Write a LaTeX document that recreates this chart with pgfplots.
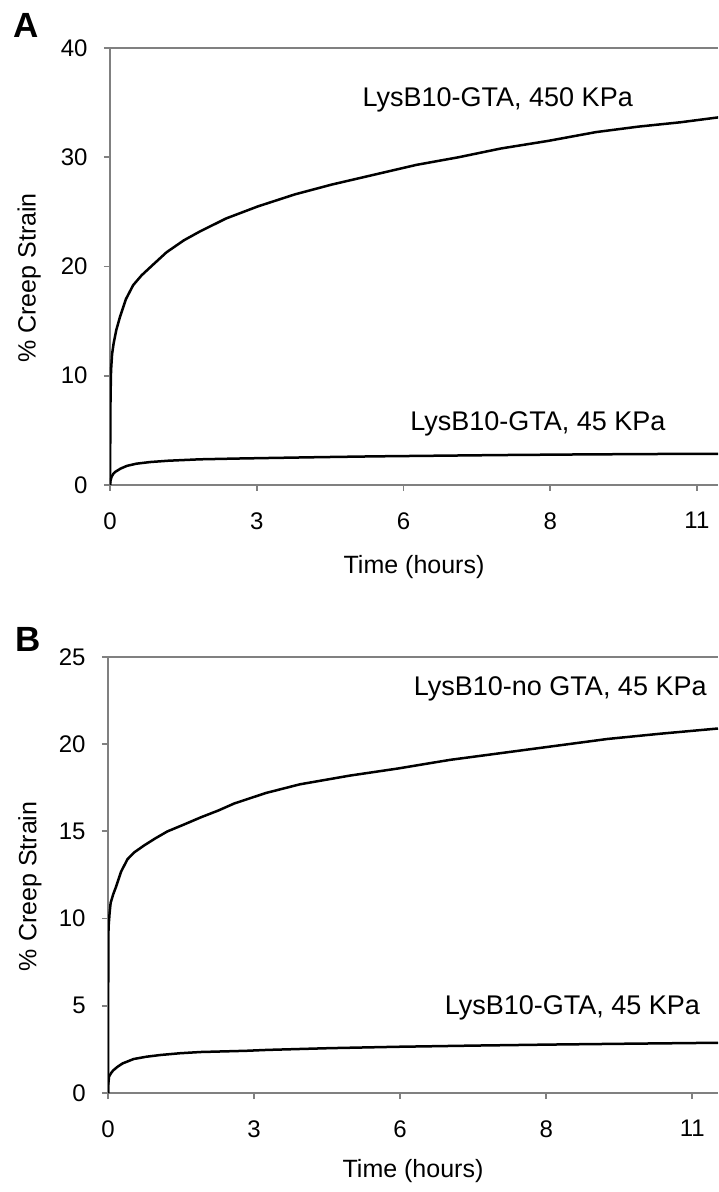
\documentclass[border=0pt]{standalone}
\usepackage{fontspec}
\setmainfont{Liberation Sans}
\usepackage{pgfplots}
\pgfplotsset{compat=1.18}
\pgfplotsset{every non boxed y axis/.style={}}
\definecolor{axisgray}{gray}{0.5}

\pgfplotsset{
  curve/.style={black, line width=1.25pt, no marks},
  creep/.style={
    scale only axis,
    xmin=0, ymin=0,
    axis x line*=box, axis y line*=left,
    axis line style={axisgray, line width=0.9pt, -},
    xtick pos=left, tick align=outside,
    major tick length=3pt,
    tick style={axisgray, line width=0.9pt},
    xtick={0,2.7778,5.5556,8.3333,11.1111},
    xticklabels={0,3,6,8,11},
    /pgf/number format/assume math mode=true,
    tick label style={font=\fontsize{12}{14}\selectfont, inner sep=0pt},
    xticklabel style={anchor=north, yshift=-10.5pt},
    yticklabel style={anchor=east, xshift=-8pt},
    label style={font=\fontsize{12.5}{15}\selectfont},
    xlabel={Time (hours)},
    ylabel={\% Creep Strain},
    clip=true,
  }
}

\begin{document}
\begin{tikzpicture}
\useasboundingbox (0,0) rectangle (359pt,596pt);

% panel A
\begin{axis}[creep,
  at={(55pt,353.5pt)}, anchor=south west,
  width=304pt, height=218.5pt,
  xmax=11.51, ymax=40, ytick={0,10,20,30,40},
  xlabel style={at={(axis description cs:0.5,0)}, anchor=center, yshift=-41pt},
  ylabel style={at={(axis description cs:-0.133,0.474)}, anchor=center},
]
\addplot[curve] coordinates {(0,0) (0.005,4) (0.01,8) (0.02,10.5) (0.04,12) (0.07,13) (0.12,14.2)
  (0.19,15.4) (0.3,17) (0.44,18.3) (0.6,19.2) (0.8,20.1) (1.07,21.3) (1.4,22.4) (1.7,23.2)
  (2.2,24.4) (2.8,25.5) (3.5,26.6) (4.2,27.5) (5,28.4) (5.8,29.3) (6.6,30.0) (7.4,30.8)
  (8.3,31.5) (9.2,32.3) (10,32.8) (10.8,33.2) (11.6,33.7)};
\addplot[curve] coordinates {(0,0) (0.01,0.4) (0.03,0.75) (0.06,1.0) (0.1,1.2) (0.2,1.5) (0.32,1.75)
  (0.5,1.95) (0.76,2.1) (1.1,2.22) (1.7,2.35) (2.4,2.42) (3,2.47) (4,2.55) (5,2.62) (6,2.67)
  (7.4,2.74) (9,2.8) (10.5,2.84) (11.6,2.86)};
\node[anchor=base, font=\fontsize{13.5}{16}\selectfont] at (axis cs:7.34,34.6) {LysB10-GTA, 450 KPa};
\node[anchor=base, font=\fontsize{13.5}{16}\selectfont] at (axis cs:8.10,4.95) {LysB10-GTA, 45 KPa};
\end{axis}

% panel B
\begin{axis}[creep,
  at={(54pt,49.5pt)}, anchor=south west,
  width=305pt, height=218pt,
  xmax=11.6, ymax=25, ytick={0,5,10,15,20,25},
  xlabel style={at={(axis description cs:0.5,0)}, anchor=center, yshift=-39pt},
  ylabel style={at={(axis description cs:-0.128,0.474)}, anchor=center},
]
\addplot[curve] coordinates {(0,0) (0.003,4) (0.006,8) (0.01,9.5) (0.03,10.3) (0.05,10.9) (0.1,11.4)
  (0.15,11.8) (0.25,12.7) (0.37,13.4) (0.5,13.8) (0.69,14.2) (0.9,14.6) (1.13,15.0) (1.45,15.4)
  (1.76,15.8) (2.1,16.2) (2.4,16.6) (3.0,17.2) (3.65,17.7) (4.6,18.2) (5.5,18.6) (6.5,19.1)
  (7.5,19.5) (8.5,19.9) (9.5,20.3) (10.5,20.6) (11.6,20.9)};
\addplot[curve] coordinates {(0,0) (0.005,0.5) (0.02,0.94) (0.06,1.15) (0.1,1.3) (0.18,1.5) (0.28,1.7)
  (0.49,1.95) (0.73,2.08) (1.0,2.18) (1.37,2.28) (1.76,2.35) (2.63,2.42) (3.02,2.47) (4.2,2.57)
  (5.5,2.65) (7,2.72) (8.5,2.78) (10,2.83) (11.6,2.88)};
\node[anchor=base, font=\fontsize{13.5}{16}\selectfont] at (axis cs:8.6,22.8) {LysB10-no GTA, 45 KPa};
\node[anchor=base, font=\fontsize{13.5}{16}\selectfont] at (axis cs:8.83,4.5) {LysB10-GTA, 45 KPa};
\end{axis}

\node[anchor=base west, inner sep=0pt, font=\bfseries\fontsize{17.5}{20}\selectfont] at (6.5pt,577pt) {A};
\node[anchor=base west, inner sep=0pt, font=\bfseries\fontsize{17.5}{20}\selectfont] at (7.5pt,270pt) {B};
\end{tikzpicture}
\end{document}
